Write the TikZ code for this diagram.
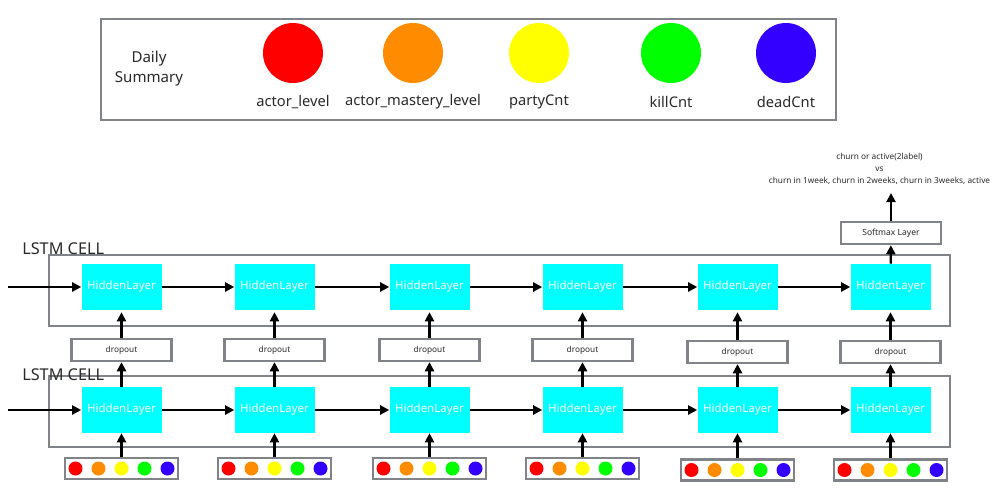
\documentclass[tikz,border=0pt]{standalone}
\usepackage{fontspec}
\setmainfont{Noto Sans}
\usetikzlibrary{arrows.meta}
\definecolor{frame}{HTML}{808488}
\definecolor{txt}{HTML}{2A2A2A}
\definecolor{cR}{HTML}{FF0000}
\definecolor{cO}{HTML}{FF8C00}
\definecolor{cY}{HTML}{FFFF00}
\definecolor{cG}{HTML}{00FF00}
\definecolor{cB}{HTML}{3300FF}
\definecolor{cyanbox}{HTML}{00FFFF}
\begin{document}
\begin{tikzpicture}[x=0.75pt,y=-0.75pt,
  hidden/.style={fill=cyanbox,draw=none,minimum width=60pt,minimum height=34.5pt,inner sep=0pt,text=white,font=\fontsize{8.6}{10}\selectfont},
  dropbox/.style={draw=frame,line width=1.8pt,fill=white,minimum width=75pt,minimum height=16.5pt,inner sep=0pt,text=txt,font=\fontsize{6.2}{7}\selectfont},
  inbox/.style={draw=frame,line width=1.8pt,fill=white,minimum width=84.75pt,minimum height=15.75pt,inner sep=0pt},
  cellframe/.style={draw=frame,line width=1.8pt},
  conn/.style={line width=1.6pt,-{Triangle[length=6.8pt,width=6.8pt]}},
  legtxt/.style={text=txt,font=\fontsize{11}{13}\selectfont},
  dot/.style={circle,inner sep=0pt,minimum size=10.5pt,draw=none},
  bigdot/.style={circle,inner sep=0pt,minimum size=45pt,draw=none}
]
\useasboundingbox (0,0) rectangle (1001,501);
\fill[white] (0,0) rectangle (1001,501);

% legend
\draw[cellframe] (101,19) rectangle (836,120);
\node[legtxt,align=center,font=\fontsize{11.3}{15}\selectfont] (ds) at (149,69) {Daily\\Summary};
\node[bigdot,fill=cR] (lr) at (293,53) {};
\node[bigdot,fill=cO] (lo) at (413,53) {};
\node[bigdot,fill=cY] (ly) at (539,53) {};
\node[bigdot,fill=cG] (lg) at (671,53) {};
\node[bigdot,fill=cB] (lb) at (786,53) {};
\node[legtxt] (tr) at (293,102) {actor\_level};
\node[legtxt] (to) at (413,102) {actor\_mastery\_level};
\node[legtxt] (ty) at (539,102) {partyCnt};
\node[legtxt] (tg) at (671,102) {killCnt};
\node[legtxt] (tb) at (786,102) {deadCnt};

% LSTM frames
\draw[cellframe] (49,255) rectangle (950,326);
\draw[cellframe] (49,376) rectangle (950,447);
\node[anchor=base west,text=txt,font=\fontsize{12.2}{14}\selectfont,inner sep=0pt] (lab1) at (22,254) {LSTM CELL};
\node[anchor=base west,text=txt,font=\fontsize{12.2}{14}\selectfont,inner sep=0pt] (lab2) at (22,380) {LSTM CELL};

% columns
\foreach \i/\x/\yd/\yi in {1/121.5/350/468.5,2/274.5/350/468.5,3/429.5/350/468.5,4/582.5/350/468.5,5/737.5/352/470,6/890.5/352/470}{
  \node[hidden] (hu\i) at (\x,287) {HiddenLayer};
  \node[hidden] (hl\i) at (\x,410) {HiddenLayer};
  \node[dropbox] (dr\i) at (\x,\yd) {dropout};
  \node[inbox] (in\i) at (\x,\yi) {};
  \node[dot,fill=cR] (d\i a) at ([xshift=-34.5pt]in\i.center) {};
  \node[dot,fill=cO] (d\i b) at ([xshift=-17.25pt]in\i.center) {};
  \node[dot,fill=cY] (d\i c) at (in\i.center) {};
  \node[dot,fill=cG] (d\i d) at ([xshift=17.25pt]in\i.center) {};
  \node[dot,fill=cB] (d\i e) at ([xshift=34.5pt]in\i.center) {};
  \draw[conn] (in\i) -- (hl\i);
  \draw[conn] (hl\i) -- (dr\i);
  \draw[conn,shorten >=1.5pt] (dr\i) -- (hu\i);
}

% horizontal connectors
\coordinate (su) at (8,287);
\coordinate (sl) at (8,410);
\draw[conn] (su) -- (hu1);
\draw[conn] (sl) -- (hl1);
\foreach \i/\j in {1/2,2/3,3/4,4/5,5/6}{
  \draw[conn] (hu\i) -- (hu\j);
  \draw[conn] (hl\i) -- (hl\j);
}

% softmax and output
\node[dropbox,font=\fontsize{6.4}{7}\selectfont] (sm) at (891,233) {Softmax Layer};
\draw[conn] (hu6) -- (sm);
\coordinate (outp) at (891,193);
\draw[conn] (sm) -- (outp);
\node[text=txt,align=center,font=\fontsize{6.2}{9}\selectfont,inner sep=0pt] (outtxt) at (879.5,169) {churn or active(2label)\\vs\\churn in 1week, churn in 2weeks, churn in 3weeks, active};
\end{tikzpicture}
\end{document}
